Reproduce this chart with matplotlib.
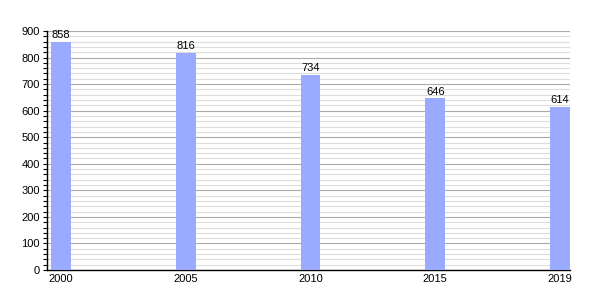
import matplotlib
matplotlib.use("Agg")
import matplotlib.pyplot as plt
from matplotlib.ticker import MultipleLocator

years = ["2000", "2005", "2010", "2015", "2019"]
values = [858, 816, 734, 646, 614]

plt.rcParams['font.family'] = ['Liberation Sans', 'DejaVu Sans']
fig = plt.figure(figsize=(6, 3), dpi=100)
ax = fig.add_axes([47/600, 30/300, 523/600, 239/300])
x = list(range(len(years)))
ax.bar(x, values, width=0.16, color="#99aaff", zorder=3)
for xi, v in zip(x, values):
    ax.text(xi, v + 7, str(v), ha="center", va="bottom", fontsize=8, zorder=4)
ax.set_xlim(-0.112, 4.08)
ax.set_ylim(0, 900)
ax.set_xticks(x)
ax.set_xticklabels(years, fontsize=8)
ax.yaxis.set_major_locator(MultipleLocator(100))
ax.yaxis.set_minor_locator(MultipleLocator(20))
ax.tick_params(axis="y", which="both", length=3, width=0.8, labelsize=8, pad=2)
ax.tick_params(axis="x", length=0, labelsize=8, pad=3)
ax.grid(axis="y", which="major", color="#aaaaaa", linewidth=0.8, zorder=0)
ax.grid(axis="y", which="minor", color="#dddddd", linewidth=0.8, zorder=0)
for s in ["top", "right"]:
    ax.spines[s].set_visible(False)
ax.spines["left"].set_linewidth(1)
ax.spines["bottom"].set_linewidth(1)
fig.savefig("out.png", dpi=100)
